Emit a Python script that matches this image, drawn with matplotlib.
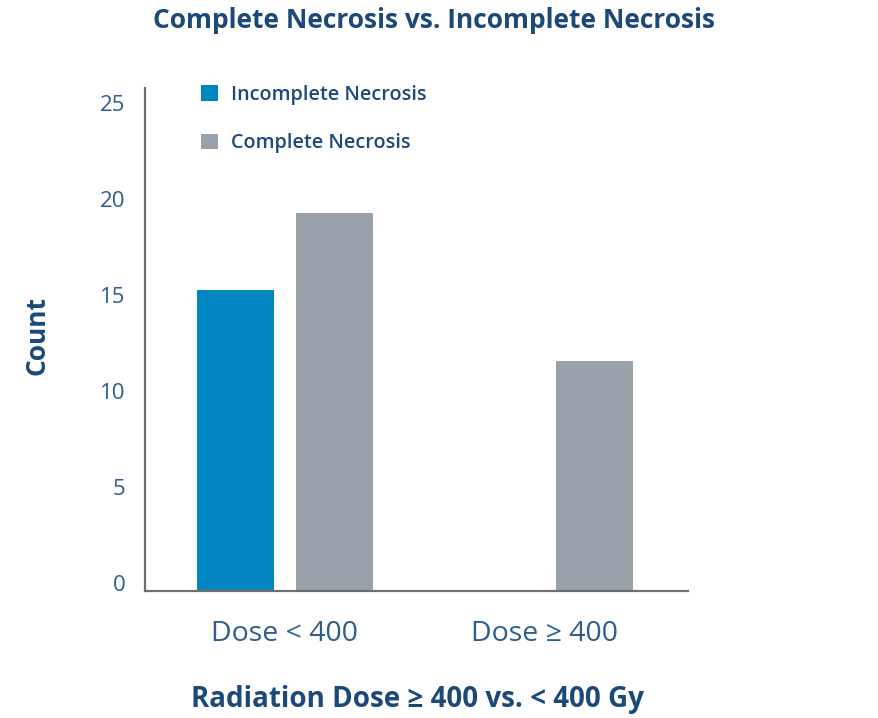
import matplotlib
matplotlib.use("Agg")
import matplotlib.pyplot as plt
import matplotlib.transforms as mtransforms
import numpy as np

categories = ["Dose < 400", "Dose \u2265 400"]
series_names = ["Incomplete Necrosis", "Complete Necrosis"]
incomplete = [15.7, 0.0]
complete = [19.7, 12.0]
y_ticks = [0, 5, 10, 15, 20, 25]

BLUE = "#0086BF"
GREY = "#99A2AA"
NAVY = "#1B4A78"
TICK = "#2F5E8C"

plt.rcParams["font.family"] = ["Open Sans", "DejaVu Sans"]

fig = plt.figure(figsize=(8.79, 7.18), dpi=100)
ax = fig.add_axes([145 / 879, 1 - 591 / 718, (688 - 145) / 879, (591 - 88) / 718])

x = np.arange(len(categories))
w = 0.296
off = 0.19
b1 = ax.bar(x - off, incomplete, w, color=BLUE, label=series_names[0])
b2 = ax.bar(x + off, complete, w, color=GREY, label=series_names[1])

ax.set_xlim(-0.538, 1.55)
ax.set_ylim(0, 26.2)
ax.set_yticks(y_ticks)
ax.set_yticklabels([str(t) for t in y_ticks], fontsize=16, color=TICK)
ax.set_xticks(x)
ax.set_xticklabels(categories, fontsize=20.5, color=TICK)
ax.tick_params(axis="y", length=0, pad=14)
ax.tick_params(axis="x", length=0, pad=21)

# lift the y tick labels slightly above their ticks
shift = mtransforms.ScaledTranslation(0, 8 / 100, fig.dpi_scale_trans)
for lab in ax.get_yticklabels():
    lab.set_transform(lab.get_transform() + shift)

for side in ("top", "right"):
    ax.spines[side].set_visible(False)
for side in ("left", "bottom"):
    ax.spines[side].set_color("#6E6E6E")
    ax.spines[side].set_linewidth(1.6)

fig.text(434 / 879, 1 - 20 / 718, "Complete Necrosis vs. Incomplete Necrosis",
         ha="center", va="center", fontsize=19, fontweight="bold", color=NAVY)
fig.text(417 / 879, 1 - 700 / 718, "Radiation Dose \u2265 400 vs. < 400 Gy",
         ha="center", va="center", fontsize=20, fontweight="bold", color=NAVY)
fig.text(37 / 879, 1 - 335 / 718, "Count", rotation=90,
         ha="center", va="center", fontsize=19, fontweight="bold", color=NAVY)

leg = fig.legend(handles=[b1, b2], loc="upper left",
                 bbox_to_anchor=(183 / 879, 1 - 67 / 718),
                 frameon=False, handlelength=0.85, handleheight=0.85,
                 handletextpad=0.7, labelspacing=1.45,
                 prop={"family": ["Open Sans", "DejaVu Sans"],
                       "weight": "semibold", "size": 14.2})
for t in leg.get_texts():
    t.set_color(NAVY)

fig.savefig("out.png", dpi=100, facecolor="white")
